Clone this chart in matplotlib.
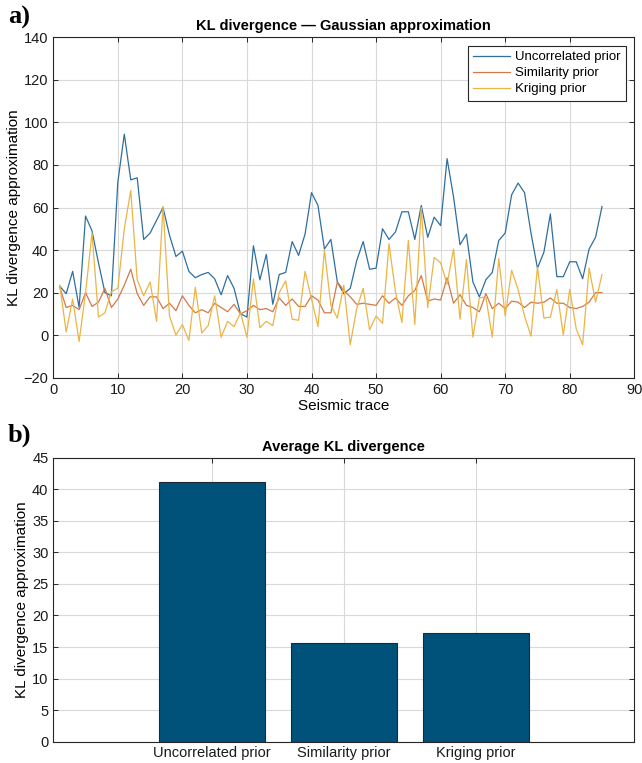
import numpy as np
import matplotlib
matplotlib.use('Agg')
import matplotlib.pyplot as plt

plt.rcParams['font.family'] = ['Liberation Sans', 'DejaVu Sans']

# KL divergence per seismic trace
trazas = np.arange(1, 86)
kl_uncorrelated = [23, 19.5, 30, 13, 56, 49, 34, 20, 18.5, 72,
                   94.5, 73, 74, 45, 48, 54, 60, 47, 37, 39.5,
                   30, 27, 28.5, 29.5, 26.5, 19, 28, 22, 10, 8.5,
                   42, 26, 38, 14.5, 28.5, 29.5, 44, 37.5, 47.5, 67,
                   61, 40.5, 45, 25, 19.5, 22, 35, 44, 31, 31.5,
                   50, 45, 48.5, 58, 58, 45, 61, 46, 55.5, 51.5,
                   83, 65, 42.5, 47.5, 25, 18, 26, 29.5, 44.5, 48,
                   66, 71.5, 67, 48, 31.5, 39, 57, 27.5, 27.5, 34.5,
                   34.5, 26.5, 40.5, 46, 60.5]
kl_similarity = [22.5, 13, 14, 12, 20, 13.5, 15.5, 22, 13, 17,
                 23.5, 31, 19.5, 14, 18, 18, 12.5, 15, 11.5, 18.5,
                 14, 10.5, 12, 10.5, 15, 13, 11, 14.5, 10, 11.5,
                 14, 12, 12.5, 11, 17.5, 14, 17, 13.5, 13.5, 18.5,
                 16.5, 10.5, 10.5, 25, 21, 18, 14.5, 15, 14.5, 14,
                 18.5, 15, 17.5, 14, 18.5, 21, 28, 16, 17, 16.5,
                 27, 15, 19, 14, 13, 11, 19.5, 12.5, 15, 12.5,
                 16, 15.5, 13, 15.5, 15, 15.5, 17.5, 15, 15, 13,
                 12.5, 13.5, 15.5, 20, 20]
kl_kriging = [23.5, 1.5, 17, -3, 20, 48, 8.5, 10.5, 20.5, 22,
              50, 68, 26, 18.5, 25, 6.5, 60.5, 9, 0, 5,
              -2.5, 22.5, 1, 4.5, 18.5, -1, 6.5, 4, 10.5, -1,
              26.5, 3.5, 6.5, 4.5, 20, 25.5, 7.5, 7, 30, 17,
              4, 40, 14, 8, 23.5, -4.5, 12.5, 22, 2.5, 9,
              5.5, 43, 20.5, 6, 44.5, 5, 60, 13, 36.5, 34,
              24, 40.5, 7.5, 35.5, -1, 17.5, 18, -1, 36, 9,
              30.5, 21.5, 9, -0.5, 32, 8, 8.5, 21.5, 0, 21.5,
              3, -4.5, 31.5, 15.5, 28.5]

# Average KL divergence per prior
priors = ['Uncorrelated prior', 'Similarity prior', 'Kriging prior']
kl_promedio = [41.1, 15.7, 17.2]

colores = ['#2f6f9f', '#d2794a', '#ecb445']
gris = '#262626'

fig = plt.figure(figsize=(6.42, 7.63), dpi=100)


def estilo(ax):
    for s in ax.spines.values():
        s.set_color(gris)
        s.set_linewidth(0.8)
    ax.tick_params(direction='in', top=True, right=True, colors=gris,
                   labelcolor='#1a1a1a', labelsize=10.5, length=3.5, width=0.7)
    ax.grid(True, color='#d9d9d9', linewidth=0.8)
    ax.set_axisbelow(True)


# a) curvas por traza
ax1 = fig.add_axes([0.083, 0.505, 0.905, 0.446])
estilo(ax1)
ax1.plot(trazas, kl_uncorrelated, color=colores[0], lw=0.9, label=priors[0])
ax1.plot(trazas, kl_similarity, color=colores[1], lw=0.9, label=priors[1])
ax1.plot(trazas, kl_kriging, color=colores[2], lw=0.9, label=priors[2])
ax1.set_xlim(0, 90)
ax1.set_ylim(-20, 140)
ax1.set_xticks(range(0, 91, 10))
ax1.set_yticks(range(-20, 141, 20))
ax1.set_yticklabels(['\u221220'] + [str(v) for v in range(0, 141, 20)])
ax1.set_xlabel('Seismic trace', fontsize=11, labelpad=2)
ax1.set_ylabel('KL divergence approximation', fontsize=11, labelpad=2)
ax1.set_title('KL divergence \u2014 Gaussian approximation', fontsize=10.5,
              fontweight='bold', pad=5)
leg = ax1.legend(loc='upper right', fancybox=False, framealpha=1, fontsize=9.5,
                 handlelength=2.8, borderaxespad=0.65, labelspacing=0.28,
                 borderpad=0.4, handletextpad=0.35)
leg.get_frame().set_edgecolor(gris)
leg.get_frame().set_linewidth(0.8)

# b) promedio
ax2 = fig.add_axes([0.083, 0.028, 0.905, 0.372])
estilo(ax2)
ax2.bar([1, 2, 3], kl_promedio, width=0.8, color='#00527a',
        edgecolor='#1c2a33', linewidth=0.8)
ax2.set_xlim(-0.2, 4.2)
ax2.set_ylim(0, 45)
ax2.set_xticks([1, 2, 3])
ax2.set_xticklabels(priors)
ax2.set_yticks(range(0, 46, 5))
ax2.set_ylabel('KL divergence approximation', fontsize=11, labelpad=2)
ax2.set_title('Average KL divergence', fontsize=10.5, fontweight='bold', pad=5)

fig.text(0.012, 0.977, 'a)', fontsize=19, fontweight='bold',
         family=['Liberation Serif', 'DejaVu Serif'], va='center')
fig.text(0.012, 0.43, 'b)', fontsize=19, fontweight='bold',
         family=['Liberation Serif', 'DejaVu Serif'], va='center')

plt.savefig('out.png', dpi=100)
